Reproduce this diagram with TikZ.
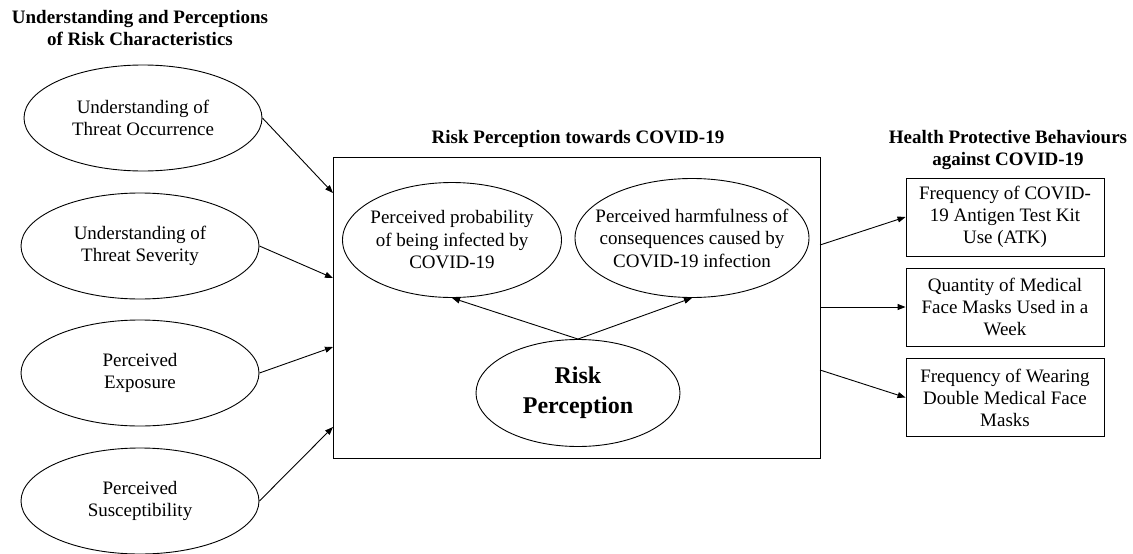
\documentclass[tikz,border=0pt]{standalone}
\usepackage{fontspec}
\setmainfont{Liberation Serif}
\usetikzlibrary{arrows.meta,shapes.geometric}
\tikzset{
    Factor/.style = {ellipse,draw,inner sep=0pt,align=center,
        font=\fontsize{19}{22}\selectfont,minimum width=238pt,minimum height=106pt},
    Facet/.style = {ellipse,draw,inner xsep=-25pt,inner ysep=0pt,align=center,
        font=\fontsize{19}{22.5}\selectfont},
    Outcome/.style = {rectangle,draw,inner sep=0pt,align=center,
        font=\fontsize{19}{22}\selectfont,minimum width=198pt,minimum height=78pt},
    Heading/.style = {align=center,font=\bfseries\fontsize{19}{21.5}\selectfont},
    Link/.style = {-{Triangle[length=8pt,width=6pt]}}
}
\begin{document}
\begin{tikzpicture}[x=1pt,y=-1pt,line width=0.9pt]
        \useasboundingbox (0,0) rectangle (1133,554);
        % headings
        \node[Heading] (hFactors) at (140,28) {Understanding and Perceptions\\of Risk Characteristics};
        \node[Heading] (hRisk) at (578,139) {Risk Perception towards COVID-19};
        \node[Heading] (hBehave) at (1008,150) {Health Protective Behaviours\\against COVID-19};
        % left factors
        \node[Factor] (occur) at (143,118) {Understanding of\\Threat Occurrence};
        \node[Factor] (sever) at (140,246) {Understanding of\\Threat Severity};
        \node[Factor] (expos) at (140,373) {Perceived\\Exposure};
        \node[Factor] (suscep) at (140,501) {Perceived\\Susceptibility};
        % risk perception box
        \node[draw,minimum width=487pt,minimum height=301pt] (box) at (576.5,307.5) {};
        \node[Facet,minimum width=219pt,minimum height=115pt] (prob) at (452,240)
            {Perceived probability\\of being infected by\\COVID-19};
        \node[Facet,minimum width=234pt,minimum height=119pt] (harm) at (692,238)
            {Perceived harmfulness of\\consequences caused by\\COVID-19 infection};
        \node[Facet,minimum width=204pt,minimum height=107pt,
              font=\bfseries\fontsize{24}{30}\selectfont] (risk) at (578,393) {Risk\\Perception};
        \coordinate (in1) at (333,193);
        \coordinate (in2) at (333,278);
        \coordinate (in3) at (333,347);
        \coordinate (in4) at (333,427);
        \coordinate (out1) at (820,245);
        \coordinate (out2) at (820,307);
        \coordinate (out3) at (820,370);
        % behaviours
        \node[Outcome] (atk) at (1005,217) {Frequency of COVID-\\19 Antigen Test Kit\\Use (ATK)};
        \node[Outcome] (masks) at (1005,307) {Quantity of Medical\\Face Masks Used in a\\Week};
        \node[Outcome] (double) at (1005,397.5) {Frequency of Wearing\\Double Medical Face\\Masks};
        % connectors
        \draw[Link] (occur.east) -- (in1);
        \draw[Link] (sever.east) -- (in2);
        \draw[Link] (expos.east) -- (in3);
        \draw[Link] (suscep.east) -- (in4);
        \draw[Link] (risk.north) -- (prob.south);
        \draw[Link] (risk.north) -- (harm.south);
        \draw[Link] (out1) -- (atk.west);
        \draw[Link] (out2) -- (masks.west);
        \draw[Link] (out3) -- (double.west);
\end{tikzpicture}
\end{document}
